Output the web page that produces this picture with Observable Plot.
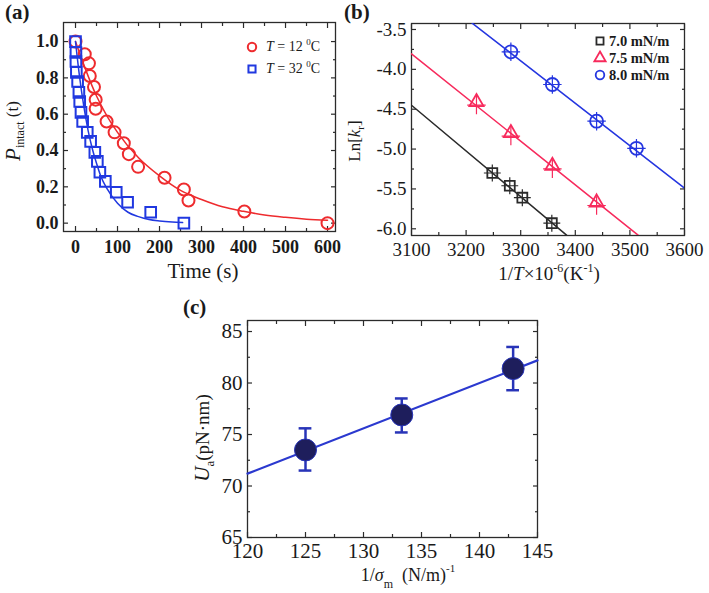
<!DOCTYPE html>
<html>
<head>
<meta charset="utf-8">
<script src="https://cdn.jsdelivr.net/npm/d3@7"></script>
<script src="https://cdn.jsdelivr.net/npm/@observablehq/plot@0.6"></script>
<style>
  body { margin: 0; background: #fff; }
  #wrap { position: relative; width: 709px; height: 593px; overflow: hidden; background: #fff; }
  #wrap svg { position: absolute; overflow: visible; }
</style>
</head>
<body>
<div id="wrap"></div>
<script>
// ---------- Panel (a): P_intact(t) vs time ----------
const a12Time = [0, 22, 32, 34, 44, 48, 48, 74, 93, 115, 127, 149, 212, 258, 269, 402, 600];
const a12P    = [1.0, 0.93, 0.88, 0.81, 0.75, 0.68, 0.63, 0.56, 0.50, 0.44, 0.38, 0.31, 0.25, 0.185, 0.125, 0.064, 0.0];
const a32Time = [0, 1, 1, 2, 5, 8, 10, 13, 17, 28, 36, 46, 52, 58, 71, 97, 124, 179, 258];
const a32P    = [1.0, 0.94, 0.89, 0.83, 0.78, 0.72, 0.67, 0.61, 0.56, 0.50, 0.45, 0.39, 0.34, 0.28, 0.23, 0.17, 0.115, 0.06, 0.0];
const fit12Time = [0, 25, 50, 75, 100, 150, 200, 250, 300, 350, 400, 450, 500, 550, 600];
const fit12P    = [1.0, 0.84, 0.70, 0.59, 0.50, 0.36, 0.26, 0.18, 0.13, 0.09, 0.065, 0.045, 0.032, 0.022, 0.016];
const fit32Time = [0, 10, 20, 30, 40, 50, 60, 75, 100, 125, 150, 175, 200, 230, 255];
const fit32P    = [1.0, 0.80, 0.64, 0.51, 0.41, 0.33, 0.26, 0.19, 0.11, 0.06, 0.036, 0.02, 0.012, 0.006, 0.003];
const aXTicks = [0, 100, 200, 300, 400, 500, 600];
const aXMinor = [50, 150, 250, 350, 450, 550];
const aYTicks = [0.0, 0.2, 0.4, 0.6, 0.8, 1.0];
const aYMinor = [0.1, 0.3, 0.5, 0.7, 0.9];
const aLegend = ["12", "32"];

// ---------- Panel (b): Ln[k_r] vs 1/T ----------
const b70X = [3248, 3280, 3303, 3357];
const b70Y = [-5.30, -5.46, -5.61, -5.93];
const b75X = [3219, 3282, 3358, 3439];
const b75Y = [-4.41, -4.80, -5.21, -5.67];
const b80X = [3282, 3358, 3439, 3512];
const b80Y = [-3.78, -4.19, -4.65, -4.99];
const fit70X = [3100, 3384];  const fit70Y = [-4.45, -6.08];
const fit75X = [3100, 3515];  const fit75Y = [-3.805, -6.08];
const fit80X = [3211, 3600];  const fit80Y = [-3.42, -5.49];
const bXTicks = [3100, 3200, 3300, 3400, 3500, 3600];
const bXMinor = [3150, 3250, 3350, 3450, 3550];
const bYTicks = [-6.0, -5.5, -5.0, -4.5, -4.0, -3.5];
const bYLabels = ["-6.0", "-5.5", "-5.0", "-4.5", "-4.0", "-3.5"];
const bYMinor = [-5.75, -5.25, -4.75, -4.25, -3.75];
const bLegend = ["7.0 mN/m", "7.5 mN/m", "8.0 mN/m"];

// ---------- Panel (c): U_a vs 1/sigma_m ----------
const cX    = [125, 133.3, 142.9];
const cY    = [73.5, 76.9, 81.4];
const cLow  = [71.5, 75.2, 79.3];
const cHigh = [75.6, 78.5, 83.5];
const fitCX = [120, 145];  const fitCY = [71.2, 82.2];
const cXTicks = [120, 125, 130, 135, 140, 145];
const cXMinor = [122.5, 127.5, 132.5, 137.5, 142.5];
const cYTicks = [65, 70, 75, 80, 85];
const cYMinor = [67.5, 72.5, 77.5, 82.5];

// ---------- styles ----------
const INK = "#2b2b2b";
const RED_A = "#ee2b2e", BLUE_A = "#2038e0";
const BLACK_B = "#2a2a2a", RED_B = "#f72a5c", BLUE_B = "#2536e0";
const LINE_C = "#2b39cf", DOT_C = "#1e1e5c", ERR_C = "#2834b8";
const SERIF = "'Liberation Serif', 'Times New Roman', serif";

function axesSet({xMajor, xMinor, yMajor, yMinor, xFmt, yFmt, xPad, yPad, major = 5, minor = 3}) {
  const blank = () => "";
  const tk = {tickFormat: blank, label: null, stroke: INK, strokeWidth: 1.2};
  const list = [
    Plot.axisX({ticks: xMajor, anchor: "bottom", tickSize: 0, tickPadding: xPad, tickFormat: xFmt, label: null}),
    Plot.axisY({ticks: yMajor, anchor: "left", tickSize: 0, tickPadding: yPad, tickFormat: yFmt, label: null})
  ];
  for (const anchor of ["bottom", "top"]) {
    list.push(Plot.axisX({ticks: xMajor, anchor, tickSize: -major, ...tk}));
    list.push(Plot.axisX({ticks: xMinor, anchor, tickSize: -minor, ...tk}));
  }
  for (const anchor of ["left", "right"]) {
    list.push(Plot.axisY({ticks: yMajor, anchor, tickSize: -major, ...tk}));
    list.push(Plot.axisY({ticks: yMinor, anchor, tickSize: -minor, ...tk}));
  }
  list.push(Plot.frame({stroke: INK, strokeWidth: 1.3}));
  return list;
}

function richText(svg, x, y, parts, {size = 20, anchor = "middle", rotate = 0, weight = "normal", fill = "#1a1a1a"} = {}) {
  const t = d3.select(svg).append("text")
    .attr("transform", `translate(${x},${y})` + (rotate ? ` rotate(${rotate})` : ""))
    .attr("text-anchor", anchor)
    .attr("font-family", SERIF)
    .attr("font-size", size)
    .attr("font-weight", weight)
    .attr("fill", fill);
  let cur = 0;
  for (const p of parts) {
    const target = p.shift || 0;
    t.append("tspan").attr("dy", target - cur).attr("font-size", p.size || size)
      .attr("font-style", p.it ? "italic" : null).text(p.t);
    cur = target;
  }
}

function legendSym(svg, type, x, y, r, color, sw) {
  d3.select(svg).append("path")
    .attr("transform", `translate(${x},${y})`)
    .attr("d", d3.symbol(type, Math.PI * r * r)())
    .attr("fill", "none").attr("stroke", color).attr("stroke-width", sw);
}

function place(svg, left, top) {
  svg.style.left = left + "px";
  svg.style.top = top + "px";
  document.getElementById("wrap").appendChild(svg);
}

// ---------- Panel (a) ----------
const svgA = Plot.plot({
  width: 345, height: 290,
  marginLeft: 63, marginRight: 10, marginTop: 22, marginBottom: 59,
  x: {domain: [-28.6, 619]},
  y: {domain: [-0.046, 1.105]},
  style: {fontFamily: SERIF, fontSize: "18px", fontWeight: "bold", color: "#1a1a1a", background: "transparent", overflow: "visible"},
  marks: [
    ...axesSet({xMajor: aXTicks, xMinor: aXMinor, yMajor: aYTicks, yMinor: aYMinor,
      xFmt: d => String(d), yFmt: d => d.toFixed(1), xPad: 9, yPad: 5}),
    Plot.line(fit12Time, {x: fit12Time, y: fit12P, stroke: RED_A, strokeWidth: 1.5, curve: "monotone-x"}),
    Plot.line(fit32Time, {x: fit32Time, y: fit32P, stroke: BLUE_A, strokeWidth: 1.5, curve: "monotone-x"}),
    Plot.dot(a12Time, {x: a12Time, y: a12P, r: 6, stroke: RED_A, strokeWidth: 2, fill: "none"}),
    Plot.dot(a32Time, {x: a32Time, y: a32P, r: 6, symbol: "square", stroke: BLUE_A, strokeWidth: 2, fill: "none"})
  ]
});
place(svgA, 0, 0);
richText(svgA, 5, 19, [{t: "(a)"}], {size: 21, anchor: "start", weight: "bold"});
richText(svgA, 203, 278, [{t: "Time (s)"}], {size: 21});
richText(svgA, 20, 131, [{t: "P", it: true, size: 21}, {t: "intact", size: 12, shift: 4}, {t: "\u00a0(t)", size: 17, shift: -2}], {size: 19, rotate: -90});
legendSym(svgA, d3.symbolCircle, 252, 47, 4.2, RED_A, 2);
legendSym(svgA, d3.symbolSquare, 252, 69, 4, BLUE_A, 2);
richText(svgA, 266, 51, [{t: "T", it: true}, {t: "\u00a0= " + aLegend[0] + "\u00a0"}, {t: "0", size: 9, shift: -6}, {t: "C"}], {size: 14, anchor: "start"});
richText(svgA, 266, 73, [{t: "T", it: true}, {t: "\u00a0= " + aLegend[1] + "\u00a0"}, {t: "0", size: 9, shift: -6}, {t: "C"}], {size: 14, anchor: "start"});

// ---------- Panel (b) ----------
const svgB = Plot.plot({
  width: 364, height: 290,
  marginLeft: 66, marginRight: 25, marginTop: 23, marginBottom: 55,
  x: {domain: [3100, 3600]},
  y: {domain: [-6.084, -3.425]},
  style: {fontFamily: SERIF, fontSize: "19px", fontWeight: "normal", color: "#1a1a1a", background: "transparent", overflow: "visible"},
  marks: [
    ...axesSet({xMajor: bXTicks, xMinor: bXMinor, yMajor: bYTicks, yMinor: bYMinor,
      xFmt: d => String(d), yFmt: (d, i) => bYLabels[bYTicks.indexOf(d)], xPad: 6.5, yPad: 5}),
    Plot.line(fit70X, {x: fit70X, y: fit70Y, stroke: BLACK_B, strokeWidth: 1.5, clip: true}),
    Plot.line(fit75X, {x: fit75X, y: fit75Y, stroke: RED_B, strokeWidth: 1.5, clip: true}),
    Plot.line(fit80X, {x: fit80X, y: fit80Y, stroke: BLUE_B, strokeWidth: 1.5, clip: true}),
    Plot.dot(b70X, {x: b70X, y: b70Y, symbol: "plus", r: 5.5, stroke: BLACK_B, strokeWidth: 1.2}),
    Plot.dot(b75X, {x: b75X, y: b75Y, symbol: "plus", r: 6, stroke: RED_B, strokeWidth: 1.2, dy: 3}),
    Plot.dot(b80X, {x: b80X, y: b80Y, symbol: "plus", r: 6, stroke: BLUE_B, strokeWidth: 1.2}),
    Plot.dot(b70X, {x: b70X, y: b70Y, symbol: "square", r: 5.6, stroke: BLACK_B, strokeWidth: 1.8, fill: "none"}),
    Plot.dot(b75X, {x: b75X, y: b75Y, symbol: "triangle", r: 5.2, stroke: RED_B, strokeWidth: 1.8, fill: "none"}),
    Plot.dot(b80X, {x: b80X, y: b80Y, symbol: "circle", r: 6.5, stroke: BLUE_B, strokeWidth: 1.8, fill: "none"})
  ]
});
place(svgB, 345, 0);
richText(svgB, -1, 19, [{t: "(b)"}], {size: 21, anchor: "start", weight: "bold"});
richText(svgB, 15, 141, [{t: "Ln[", size: 17}, {t: "k", it: true, size: 17}, {t: "r", size: 11, shift: 4}, {t: "]", size: 17}], {size: 17, rotate: -90});
richText(svgB, 204, 280, [{t: "1/"}, {t: "T", it: true}, {t: "\u00d710"}, {t: "-6", size: 12, shift: -8}, {t: "(K"}, {t: "-1", size: 12, shift: -8}, {t: ")"}], {size: 19});
const bSyms = [d3.symbolSquare, d3.symbolTriangle, d3.symbolCircle];
const bCols = [BLACK_B, RED_B, BLUE_B];
const bRs = [4, 4.2, 4.3];
bLegend.forEach((lab, i) => {
  legendSym(svgB, bSyms[i], 255, 41 + i * 17, bRs[i], bCols[i], 1.8);
  richText(svgB, 264, 46 + i * 17, [{t: lab}], {size: 14.5, anchor: "start", weight: "bold"});
});

// ---------- Panel (c) ----------
const svgC = Plot.plot({
  width: 400, height: 303,
  marginLeft: 87, marginRight: 23, marginTop: 30, marginBottom: 56,
  x: {domain: [120, 145]},
  y: {domain: [65, 86.07]},
  style: {fontFamily: SERIF, fontSize: "21px", fontWeight: "normal", color: "#1a1a1a", background: "transparent", overflow: "visible"},
  marks: [
    ...axesSet({xMajor: cXTicks, xMinor: cXMinor, yMajor: cYTicks, yMinor: cYMinor,
      xFmt: d => String(d), yFmt: d => String(d), xPad: 5.5, yPad: 5}),
    Plot.line(fitCX, {x: fitCX, y: fitCY, stroke: LINE_C, strokeWidth: 2.2}),
    Plot.ruleX(cX, {x: cX, y1: cLow, y2: cHigh, stroke: ERR_C, strokeWidth: 2.5}),
    Plot.ruleY(cLow, {y: cLow, x1: cX.map(v => v - 0.55), x2: cX.map(v => v + 0.55), stroke: ERR_C, strokeWidth: 2.5}),
    Plot.ruleY(cHigh, {y: cHigh, x1: cX.map(v => v - 0.55), x2: cX.map(v => v + 0.55), stroke: ERR_C, strokeWidth: 2.5}),
    Plot.dot(cX, {x: cX, y: cY, r: 11, fill: DOT_C, stroke: ERR_C, strokeWidth: 1})
  ]
});
place(svgC, 160, 290);
richText(svgC, 23, 24, [{t: "(c)"}], {size: 21, anchor: "start", weight: "bold"});
richText(svgC, 49, 148, [{t: "U", it: true, size: 21}, {t: "a", size: 13, shift: 5}, {t: "(pN\u00b7nm)", size: 19}], {size: 19, rotate: -90});
richText(svgC, 248, 291, [{t: "1/"}, {t: "\u03c3", it: true}, {t: "m", size: 12, shift: 7}, {t: "\u00a0\u00a0(N/m)"}, {t: "-1", size: 11, shift: -9}], {size: 18});
</script>
</body>
</html>
